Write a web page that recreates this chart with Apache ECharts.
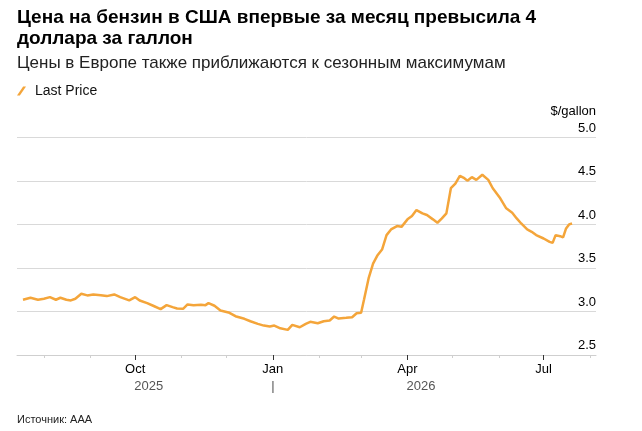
<!DOCTYPE html>
<html>
<head>
<meta charset="utf-8">
<script src="https://cdn.jsdelivr.net/npm/echarts@6/dist/echarts.min.js"></script>
<style>
html,body{margin:0;padding:0;background:#fff;}
#chart{width:642px;height:431px;}
</style>
</head>
<body>
<div id="chart"></div>
<script>
const titleText = 'Цена на бензин в США впервые за месяц превысила 4\nдоллара за галлон';
const subtitleText = 'Цены в Европе также приближаются к сезонным максимумам';
const sourceText = 'Источник: AAA';
const seriesName = 'Last Price';
const unitLabel = '$/gallon';

const dates = [
 '2025-07-18','2025-07-23','2025-07-28','2025-08-01','2025-08-05','2025-08-09','2025-08-12','2025-08-16','2025-08-19','2025-08-22',
 '2025-08-26','2025-08-30','2025-09-03','2025-09-08','2025-09-12','2025-09-17','2025-09-21','2025-09-27','2025-10-01','2025-10-04',
 '2025-10-09','2025-10-13','2025-10-18','2025-10-22','2025-10-26','2025-10-29','2025-11-02','2025-11-05','2025-11-09','2025-11-14',
 '2025-11-17','2025-11-19','2025-11-23','2025-11-27','2025-12-03','2025-12-07','2025-12-13','2025-12-17','2025-12-22','2025-12-26',
 '2025-12-30','2026-01-02','2026-01-06','2026-01-11','2026-01-14','2026-01-19','2026-01-23','2026-01-26','2026-01-31','2026-02-04',
 '2026-02-08','2026-02-11','2026-02-14','2026-02-19','2026-02-23','2026-02-26','2026-03-01','2026-03-03','2026-03-06','2026-03-09',
 '2026-03-12','2026-03-15','2026-03-18','2026-03-21','2026-03-25','2026-03-28','2026-04-01','2026-04-04','2026-04-07','2026-04-11',
 '2026-04-14','2026-04-18','2026-04-21','2026-04-24','2026-04-27','2026-04-30','2026-05-03','2026-05-06','2026-05-09','2026-05-11',
 '2026-05-14','2026-05-17','2026-05-21','2026-05-25','2026-05-28','2026-06-02','2026-06-06','2026-06-10','2026-06-13','2026-06-16',
 '2026-06-20','2026-06-23','2026-06-26','2026-07-01','2026-07-05','2026-07-07','2026-07-09','2026-07-12','2026-07-14','2026-07-16',
 '2026-07-18','2026-07-20'
];
const prices = [
 3.135,3.158,3.135,3.147,3.165,3.135,3.158,3.135,3.127,3.147,
 3.204,3.185,3.196,3.188,3.177,3.196,3.165,3.127,3.165,3.127,
 3.096,3.066,3.027,3.073,3.050,3.035,3.031,3.081,3.073,3.077,
 3.073,3.096,3.066,3.012,2.985,2.946,2.916,2.888,2.858,2.838,
 2.827,2.838,2.807,2.789,2.846,2.819,2.858,2.881,2.865,2.888,
 2.896,2.942,2.919,2.927,2.934,2.980,2.985,3.140,3.380,3.550,
 3.647,3.712,3.878,3.943,3.982,3.973,4.059,4.097,4.166,4.128,
 4.109,4.059,4.020,4.070,4.128,4.417,4.470,4.560,4.532,4.504,
 4.544,4.513,4.572,4.513,4.417,4.301,4.186,4.135,4.070,4.012,
 3.943,3.916,3.878,3.839,3.800,3.789,3.878,3.866,3.851,3.955,
 4.001,4.012
];

const monthTicks = ['2025-08-01','2025-09-01','2025-10-01','2025-11-01','2025-12-01','2026-01-01','2026-02-01','2026-03-01','2026-04-01','2026-05-01','2026-06-01','2026-07-01','2026-08-01'];
const quarterTicks = ['2025-10-01','2026-01-01','2026-04-01','2026-07-01'];
const monthNames = ['Jan','Feb','Mar','Apr','May','Jun','Jul','Aug','Sep','Oct','Nov','Dec'];
const yearLabelDates = ['2025-10-10','2026-01-01','2026-04-10'];
const yearLabelTexts = ['2025','|','2026'];
const axisMin = '2025-07-14';
const axisMax = '2026-08-05';

function ts(s){ const p = s.split('-').map(Number); return Date.UTC(p[0], p[1]-1, p[2]); }

const chart = echarts.init(document.getElementById('chart'), null, {renderer:'canvas'});
const FONT = 'Liberation Sans, Arial, sans-serif';
const yearMap = {};
yearLabelDates.forEach((d,i)=>{ yearMap[ts(d)] = yearLabelTexts[i]; });

chart.setOption({
  animation:false,
  textStyle:{fontFamily:FONT},
  title:[
    {text:titleText, left:17, top:7, padding:0, textStyle:{fontFamily:FONT, fontSize:19, fontWeight:'bold', color:'#000', lineHeight:21}},
    {text:subtitleText, left:17, top:54, padding:0, textStyle:{fontFamily:FONT, fontSize:17, fontWeight:'normal', color:'#222', lineHeight:18}},
    {text:sourceText, left:17, top:414, padding:0, textStyle:{fontFamily:FONT, fontSize:11, fontWeight:'normal', color:'#222', lineHeight:12}}
  ],
  legend:{
    left:17, top:84, padding:0, itemWidth:9, itemHeight:10, itemGap:10,
    icon:'path://M0,10 L6.8,0 L10,0 L3.2,10 Z',
    textStyle:{fontFamily:FONT, fontSize:14, color:'#111', padding:[0,0,0,4]},
    data:[seriesName]
  },
  grid:{left:17, right:46, top:137.5, bottom:76, containLabel:false},
  xAxis:[
    {
      type:'value', min:ts(axisMin), max:ts(axisMax),
      axisLine:{show:true, lineStyle:{color:'#cfcfcf', width:1}},
      axisTick:{show:true, length:3, customValues:monthTicks.map(ts), lineStyle:{color:'#cfcfcf'}},
      axisLabel:{show:true, customValues:quarterTicks.map(ts), margin:8, fontSize:13, color:'#000', fontFamily:FONT,
        formatter:function(v){ return monthNames[new Date(v).getUTCMonth()]; }},
      splitLine:{show:false}
    },
    {
      type:'value', min:ts(axisMin), max:ts(axisMax), position:'bottom',
      axisLine:{show:false},
      axisTick:{show:true, length:5, customValues:quarterTicks.map(ts), lineStyle:{color:'#333'}},
      axisLabel:{show:true, customValues:yearLabelDates.map(ts), margin:25, fontSize:13, color:'#555', fontFamily:FONT,
        formatter:function(v){ return yearMap[v] || ''; }},
      splitLine:{show:false}
    }
  ],
  yAxis:{
    type:'value', position:'right', min:2.5, max:5, interval:0.5,
    name:unitLabel, nameLocation:'end', nameGap:26,
    nameTextStyle:{fontFamily:FONT, fontSize:13, color:'#000', align:'right', verticalAlign:'middle', padding:[0,0,0,0]},
    axisLine:{show:false}, axisTick:{show:false},
    axisLabel:{inside:true, margin:0, fontSize:13, color:'#000', fontFamily:FONT, verticalAlign:'bottom', align:'right', padding:[0,0,3,0],
      formatter:function(v){ return v.toFixed(1); }},
    splitLine:{show:true, lineStyle:{color:'#d9d9d9', width:1}}
  },
  series:[{
    name:seriesName, type:'line', xAxisIndex:0,
    data:dates.map((d,i)=>[ts(d), prices[i]]),
    showSymbol:false, smooth:false,
    lineStyle:{color:'#f4a53a', width:2.5},
    itemStyle:{color:'#f4a53a'}
  }]
});
</script>
</body>
</html>
